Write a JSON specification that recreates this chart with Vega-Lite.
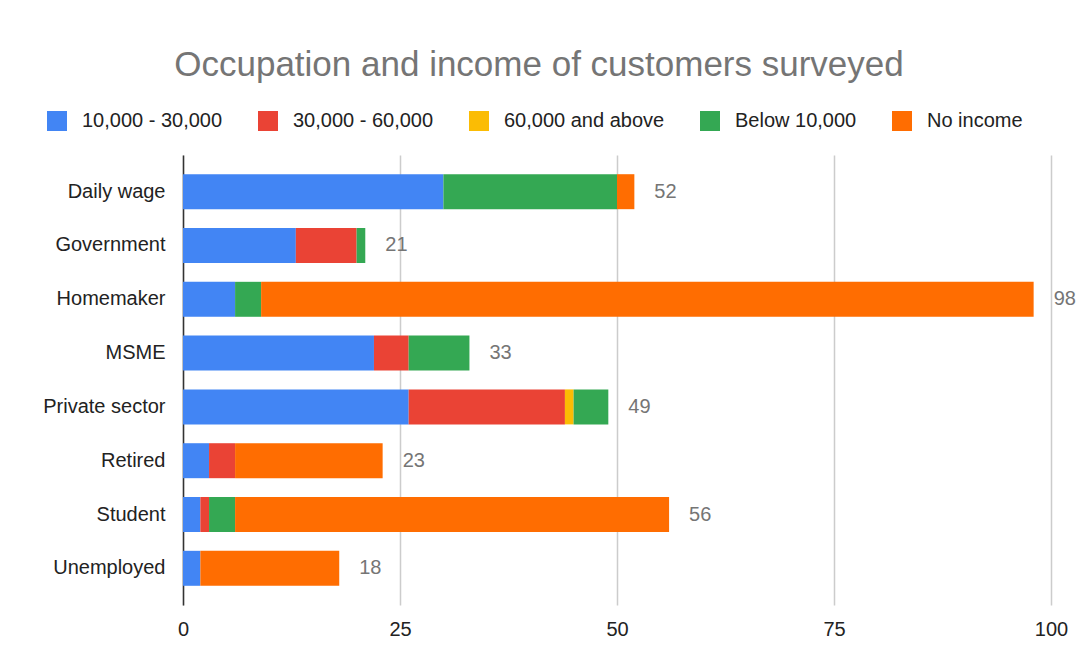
{
  "$schema": "https://vega.github.io/schema/vega-lite/v6.json",
  "width": 868,
  "height": 450,
  "autosize": {"type": "none"},
  "padding": {"left": 183, "top": 155, "right": 25, "bottom": 65},
  "background": "white",
  "config": {
    "font": "Liberation Sans",
    "view": {"stroke": null}
  },
  "title": {
    "text": "Occupation and income of customers surveyed",
    "fontSize": 35,
    "fontWeight": "normal",
    "color": "#757575",
    "anchor": "middle",
    "dx": -78,
    "offset": 28
  },
  "data": {
    "values": [
      {"occupation": "Daily wage", "income": "10,000 - 30,000", "count": 30},
      {"occupation": "Daily wage", "income": "Below 10,000", "count": 20},
      {"occupation": "Daily wage", "income": "No income", "count": 2},
      {"occupation": "Government", "income": "10,000 - 30,000", "count": 13},
      {"occupation": "Government", "income": "30,000 - 60,000", "count": 7},
      {"occupation": "Government", "income": "Below 10,000", "count": 1},
      {"occupation": "Homemaker", "income": "10,000 - 30,000", "count": 6},
      {"occupation": "Homemaker", "income": "Below 10,000", "count": 3},
      {"occupation": "Homemaker", "income": "No income", "count": 89},
      {"occupation": "MSME", "income": "10,000 - 30,000", "count": 22},
      {"occupation": "MSME", "income": "30,000 - 60,000", "count": 4},
      {"occupation": "MSME", "income": "Below 10,000", "count": 7},
      {"occupation": "Private sector", "income": "10,000 - 30,000", "count": 26},
      {"occupation": "Private sector", "income": "30,000 - 60,000", "count": 18},
      {"occupation": "Private sector", "income": "60,000 and above", "count": 1},
      {"occupation": "Private sector", "income": "Below 10,000", "count": 4},
      {"occupation": "Retired", "income": "10,000 - 30,000", "count": 3},
      {"occupation": "Retired", "income": "30,000 - 60,000", "count": 3},
      {"occupation": "Retired", "income": "No income", "count": 17},
      {"occupation": "Student", "income": "10,000 - 30,000", "count": 2},
      {"occupation": "Student", "income": "30,000 - 60,000", "count": 1},
      {"occupation": "Student", "income": "Below 10,000", "count": 3},
      {"occupation": "Student", "income": "No income", "count": 50},
      {"occupation": "Unemployed", "income": "10,000 - 30,000", "count": 2},
      {"occupation": "Unemployed", "income": "No income", "count": 16}
    ]
  },
  "encoding": {
    "y": {
      "field": "occupation",
      "type": "nominal",
      "sort": ["Daily wage", "Government", "Homemaker", "MSME", "Private sector", "Retired", "Student", "Unemployed"],
      "scale": {"paddingInner": 0.35, "paddingOuter": 0.357},
      "axis": {
        "title": null,
        "domain": true,
        "domainColor": "#333333",
        "domainWidth": 1.5,
        "ticks": false,
        "labelFontSize": 20,
        "labelColor": "#222222",
        "labelPadding": 18
      }
    }
  },
  "layer": [
    {
      "mark": {"type": "bar"},
      "encoding": {
        "x": {
          "field": "count",
          "type": "quantitative",
          "aggregate": "sum",
          "stack": "zero",
          "scale": {"domain": [0, 100], "nice": false},
          "axis": {
            "title": null,
            "values": [0, 25, 50, 75, 100],
            "domain": false,
            "ticks": false,
            "grid": true,
            "gridColor": "#cccccc",
            "gridWidth": 1.5,
            "labelFlush": false,
            "labelFontSize": 20,
            "labelColor": "#222222",
            "labelPadding": 14
          }
        },
        "color": {
          "field": "income",
          "type": "nominal",
          "scale": {
            "domain": ["10,000 - 30,000", "30,000 - 60,000", "60,000 and above", "Below 10,000", "No income"],
            "range": ["#4285F4", "#EA4335", "#FBBC04", "#34A853", "#FF6D01"]
          },
          "legend": {
            "title": null,
            "orient": "none",
            "direction": "horizontal",
            "legendX": -136,
            "legendY": -44,
            "symbolType": "square",
            "symbolSize": 400,
            "symbolStrokeWidth": 0,
            "labelFontSize": 20,
            "labelColor": "#222222",
            "labelOffset": 15,
            "labelLimit": 0,
            "columnPadding": 35
          }
        },
        "order": {"field": "income", "sort": "ascending"}
      }
    },
    {
      "transform": [
        {"aggregate": [{"op": "sum", "field": "count", "as": "total"}], "groupby": ["occupation"]}
      ],
      "mark": {"type": "text", "align": "left", "baseline": "middle", "dx": 20, "fontSize": 20, "color": "#757575"},
      "encoding": {
        "x": {"field": "total", "type": "quantitative"},
        "text": {"field": "total", "type": "quantitative"}
      }
    }
  ]
}
